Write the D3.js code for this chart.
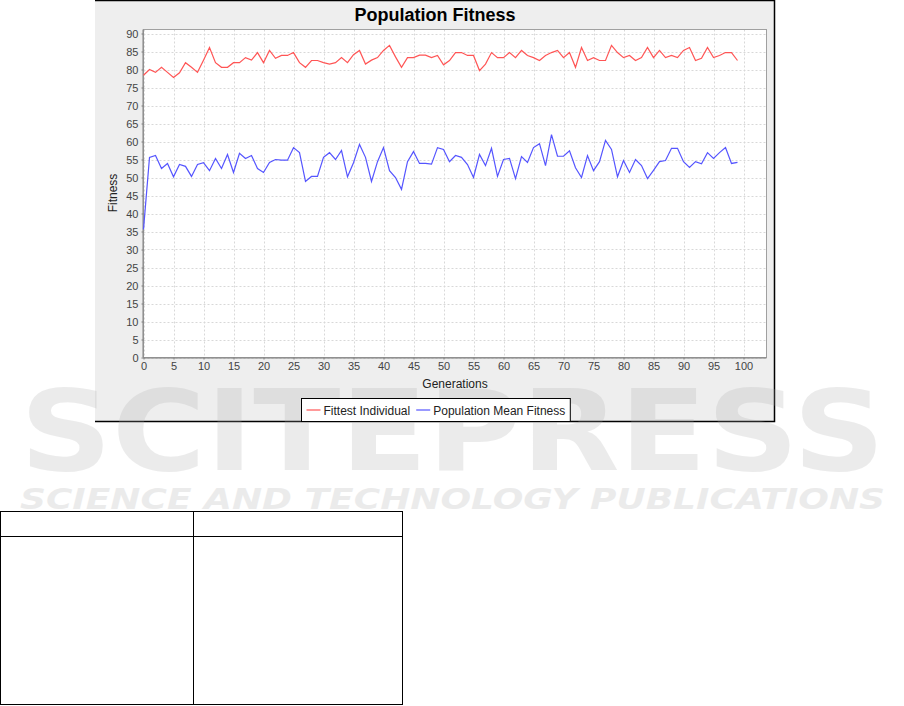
<!DOCTYPE html>
<html><head><meta charset="utf-8">
<script src="https://cdn.jsdelivr.net/npm/d3@7"></script>
<style>html,body{margin:0;padding:0;background:#fff;}svg{display:block;}</style>
</head><body>
<svg id="c" width="904" height="706"></svg>
<script>
const generations = d3.range(0, 100);
const fittest = [78.4,80.0,79.2,80.6,79.2,77.8,79.1,81.9,80.6,79.2,82.6,86.1,81.9,80.6,80.6,81.9,81.9,83.3,82.6,84.7,81.9,85.3,83.1,83.9,83.9,84.7,81.9,80.6,82.5,82.5,81.9,81.5,81.9,83.3,81.9,84.1,85.3,81.5,82.6,83.3,85.3,86.7,83.5,80.6,83.3,83.3,84.0,84.0,83.3,83.9,81.3,82.5,84.7,84.7,83.9,83.9,79.7,81.5,84.7,83.3,83.3,84.7,83.3,85.3,83.9,83.3,82.5,83.9,84.7,85.3,83.3,84.7,80.6,86.1,82.5,83.3,82.5,82.5,86.7,84.7,83.3,83.9,82.5,83.3,86.1,83.3,85.3,83.3,83.9,83.3,85.3,86.1,82.5,83.1,86.1,83.3,83.9,84.7,84.7,82.5];
const meanFitness = [35.6,55.6,56.1,52.5,53.9,50.2,53.6,53.1,50.3,53.6,54.1,51.9,55.3,52.5,56.4,51.4,56.7,55.3,56.1,52.5,51.4,54.2,55.0,54.8,54.8,58.3,56.9,48.9,50.3,50.3,55.6,56.9,55.0,57.5,50.2,54.1,59.2,55.6,48.9,54.4,58.3,51.9,50.0,46.7,54.4,57.2,53.9,53.9,53.7,58.3,57.8,54.4,56.1,55.6,53.6,50.0,56.4,53.3,58.1,50.3,55.0,55.3,49.7,55.8,54.2,58.3,59.4,53.3,61.9,55.9,55.9,57.4,52.7,50.0,56.1,51.9,54.4,60.3,57.8,50.2,54.7,51.4,55.0,53.3,49.7,52.0,54.4,54.7,58.1,58.1,54.4,52.8,54.4,53.8,56.9,55.3,56.9,58.3,53.9,54.2];
const seriesNames = ["Fittest Individual", "Population Mean Fitness"];
const seriesColors = ["#ff5555", "#5555ff"];
const xTicks = d3.range(0, 101, 5);
const yTicks = d3.range(0, 91, 5);

const svg = d3.select("#c");
const font = "'Liberation Sans', Arial, sans-serif";

// panel
svg.append("rect").attr("x",95).attr("y",0).attr("width",680).attr("height",422).attr("fill","#eeeeee");
svg.append("path").attr("d","M95,0.5H774.5V421.5H95").attr("fill","none").attr("stroke","#000").attr("stroke-width",1.5);

const L=143.5, R=766.5, T=29.5, B=357.5;
const x = d3.scaleLinear().domain([0, (R-L)/6]).range([L, R]);
const y = d3.scaleLinear().domain([0, (B-T)/3.6]).range([B, T]);

svg.append("rect").attr("x",L).attr("y",T).attr("width",R-L).attr("height",B-T).attr("fill","#fff");

// gridlines
const g = svg.append("g");
g.selectAll(".vx").data(xTicks).enter().append("line")
  .attr("x1",d=>Math.round(x(d))+0.5).attr("x2",d=>Math.round(x(d))+0.5).attr("y1",T).attr("y2",B)
  .attr("stroke","#d8d8d8").attr("stroke-dasharray","2,2");
g.selectAll(".hy").data(yTicks).enter().append("line")
  .attr("y1",d=>Math.round(y(d))+0.5).attr("y2",d=>Math.round(y(d))+0.5).attr("x1",L).attr("x2",R)
  .attr("stroke","#d8d8d8").attr("stroke-dasharray","2,2");

svg.append("rect").attr("x",L).attr("y",T).attr("width",R-L).attr("height",B-T).attr("fill","none").attr("stroke","#a0a0a0");

// axes
const xAxis = d3.axisBottom(x).tickValues(xTicks).tickSize(2).tickPadding(3);
const yAxis = d3.axisLeft(y).tickValues(yTicks).tickSize(2).tickPadding(3);
const gx = svg.append("g").attr("transform",`translate(0,${B})`).call(xAxis);
const gy = svg.append("g").attr("transform",`translate(${L},0)`).call(yAxis);
[gx,gy].forEach(a=>{
  a.select(".domain").attr("stroke","#808080");
  a.selectAll(".tick line").attr("stroke","#808080");
  a.selectAll("text").attr("font-family",font).attr("font-size",11).attr("fill","#444");
});
gx.select(".domain").attr("d",`M${L},0.5H${R}`);
gy.select(".domain").attr("d",`M-0.5,${B}V${T}`);

// lines
const series=[fittest, meanFitness];
const line = d3.line().x((d,i)=>x(generations[i])).y(d=>y(d));
series.forEach((s,k)=>{
  svg.append("path").datum(s).attr("d",line).attr("fill","none").attr("stroke",seriesColors[k]).attr("stroke-width",1.2);
});

// titles
svg.append("text").attr("x",435).attr("y",21).attr("text-anchor","middle").attr("font-family",font)
  .attr("font-weight","bold").attr("font-size",18).text("Population Fitness");
svg.append("text").attr("x",455).attr("y",388).attr("text-anchor","middle").attr("font-family",font)
  .attr("font-size",12).attr("fill","#222").text("Generations");
svg.append("text").attr("transform","translate(117,193) rotate(-90)").attr("text-anchor","middle").attr("font-family",font)
  .attr("font-size",12).attr("fill","#222").text("Fitness");

// watermark (faint, drawn before legend)
const wm = svg.append("g").attr("opacity",0.22).attr("fill","#a8a8a8");
wm.append("text").attr("x",20).attr("y",470).attr("font-family","'DejaVu Sans', sans-serif").attr("font-weight","bold")
  .attr("font-size",112).attr("textLength",865).attr("lengthAdjust","spacingAndGlyphs").text("SCITEPRESS");
wm.append("text").attr("x",20).attr("y",509).attr("font-family","'DejaVu Sans', sans-serif").attr("font-weight","bold").attr("font-style","italic")
  .attr("font-size",28).attr("textLength",865).attr("lengthAdjust","spacingAndGlyphs").text("SCIENCE AND TECHNOLOGY PUBLICATIONS");

// legend
const lg = svg.append("g");
const box = lg.append("rect").attr("fill","#fff").attr("stroke","#000");
let cx = 0;
seriesNames.forEach((n,k)=>{
  const it = lg.append("g");
  it.append("line").attr("x1",0).attr("x2",14).attr("y1",0).attr("y2",0).attr("stroke",seriesColors[k]).attr("stroke-width",1.2);
  const t = it.append("text").attr("x",17).attr("y",4.5).attr("font-family",font).attr("font-size",12).attr("fill","#222").text(n);
  const w = 17 + t.node().getComputedTextLength();
  it.attr("transform",`translate(${cx},0)`);
  cx += w + 6;
});
const totalW = cx - 6 + 10;
const lx = Math.round(435 - totalW/2) + 0.5;
lg.attr("transform",`translate(${lx+5},410)`);
box.attr("x",-5).attr("y",-11.5).attr("width",totalW).attr("height",23);

// table
const tb = svg.append("g").attr("stroke","#000").attr("fill","none");
tb.append("rect").attr("x",0.5).attr("y",511.5).attr("width",402).attr("height",193);
tb.append("line").attr("x1",193.5).attr("x2",193.5).attr("y1",511.5).attr("y2",704.5);
tb.append("line").attr("x1",0.5).attr("x2",402.5).attr("y1",536.5).attr("y2",536.5);
</script>
</body></html>
